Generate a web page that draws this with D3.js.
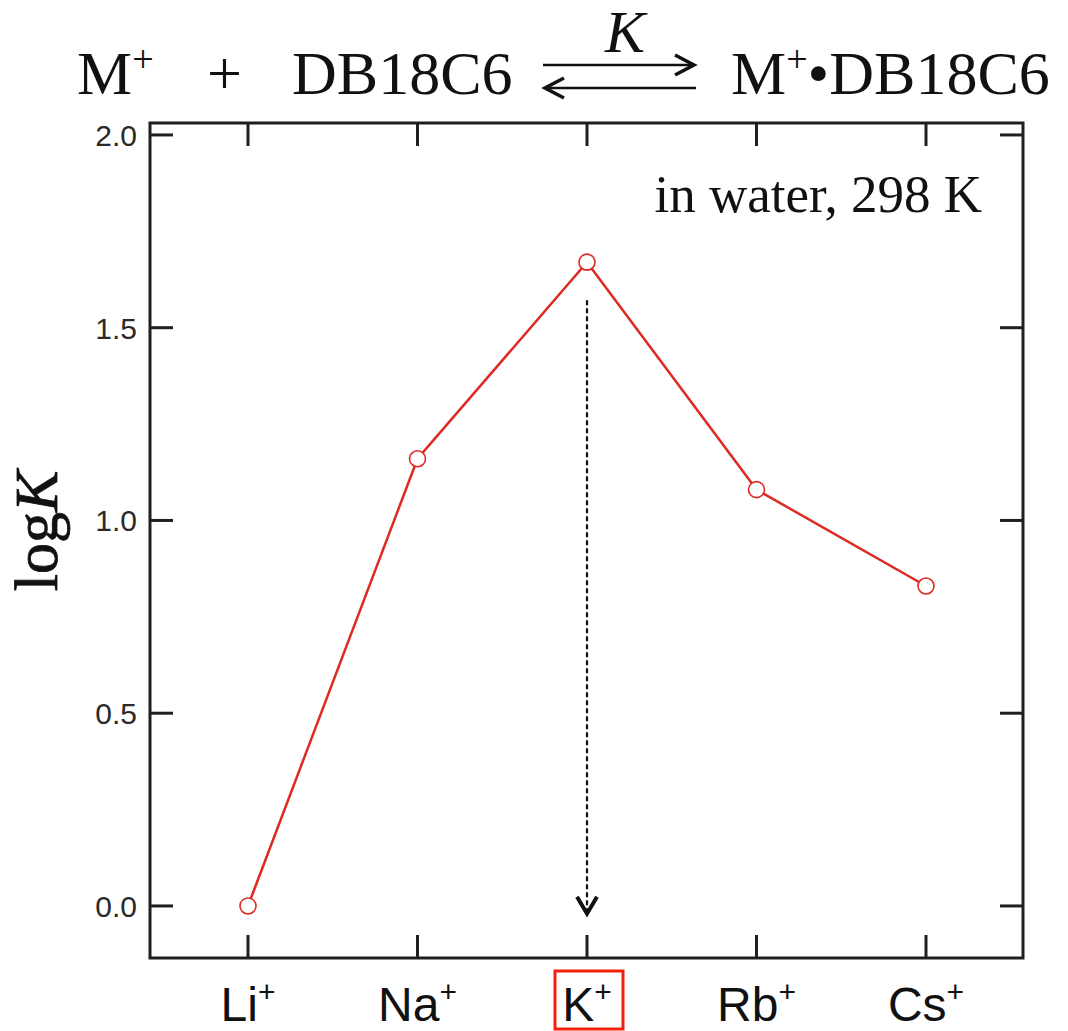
<!DOCTYPE html>
<html>
<head>
<meta charset="utf-8">
<script src="https://cdn.jsdelivr.net/npm/d3@7"></script>
<style>
  body { margin: 0; background: #fff; }
  svg text { fill: #111; }
</style>
</head>
<body>
<div id="chart"></div>
<script>
// data
var cations = ["Li", "Na", "K", "Rb", "Cs"];
var logK = [0.0, 1.16, 1.67, 1.08, 0.83];
var yTicks = [0.0, 0.5, 1.0, 1.5, 2.0];

var W = 1068, H = 1031;
var margin = {top: 123, right: 45, bottom: 73, left: 150};
var width = W - margin.left - margin.right;
var height = H - margin.top - margin.bottom;

var svg = d3.select("#chart").append("svg")
    .attr("width", W).attr("height", H);

var g = svg.append("g")
    .attr("transform", "translate(" + margin.left + "," + margin.top + ")");

var x = d3.scalePoint()
    .domain(cations)
    .range([98, 776]);

var y = d3.scaleLinear()
    .domain([-0.135, 2.031])
    .range([height, 0]);

var ink = "#1d211d";
var sans = "Liberation Sans, Arial, sans-serif";
var serif = "Liberation Serif, Times New Roman, serif";

// frame
g.append("rect")
    .attr("width", width).attr("height", height)
    .attr("fill", "none").attr("stroke", ink).attr("stroke-width", 3);

// inward ticks on all four sides
var tick = 23;
g.selectAll(".ytl").data(yTicks).enter().append("line")
    .attr("x1", 0).attr("x2", tick)
    .attr("y1", function(d) { return y(d); }).attr("y2", function(d) { return y(d); })
    .attr("stroke", ink).attr("stroke-width", 3);
g.selectAll(".ytr").data(yTicks).enter().append("line")
    .attr("x1", width - tick).attr("x2", width)
    .attr("y1", function(d) { return y(d); }).attr("y2", function(d) { return y(d); })
    .attr("stroke", ink).attr("stroke-width", 3);
g.selectAll(".xtb").data(cations).enter().append("line")
    .attr("x1", function(d) { return x(d); }).attr("x2", function(d) { return x(d); })
    .attr("y1", height - tick).attr("y2", height)
    .attr("stroke", ink).attr("stroke-width", 3);
g.selectAll(".xtt").data(cations).enter().append("line")
    .attr("x1", function(d) { return x(d); }).attr("x2", function(d) { return x(d); })
    .attr("y1", 0).attr("y2", tick)
    .attr("stroke", ink).attr("stroke-width", 3);

// y tick labels
g.selectAll(".ylab").data(yTicks).enter().append("text")
    .attr("x", -13).attr("y", function(d) { return y(d); })
    .attr("dy", "0.36em")
    .attr("text-anchor", "end")
    .attr("font-family", sans)
    .attr("font-size", 30)
    .style("fill", "#2a2a2a")
    .text(function(d) { return d3.format(".1f")(d); });

// x tick labels with superscript +
var xl = g.selectAll(".xlab").data(cations).enter().append("text")
    .attr("x", function(d) { return x(d); })
    .attr("y", height + 63)
    .attr("text-anchor", "middle")
    .attr("font-family", sans)
    .attr("font-size", 48);
xl.append("tspan").text(function(d) { return d; });
xl.append("tspan").attr("font-size", 30).attr("dy", -19).text("+");

// red box around K+
g.append("rect")
    .attr("x", x("K") - 32).attr("y", height + 13)
    .attr("width", 68).attr("height", 58)
    .attr("fill", "none").attr("stroke", "#f0200c").attr("stroke-width", 3);

// dashed arrow from the peak down to the axis
var peak = logK[cations.indexOf("K")];
g.append("line")
    .attr("x1", x("K")).attr("x2", x("K"))
    .attr("y1", y(peak) + 38).attr("y2", y(-0.02))
    .attr("stroke", "#111").attr("stroke-width", 2.2)
    .attr("stroke-dasharray", "5,3");
g.append("path")
    .attr("d", "M" + (x("K") - 10) + "," + (y(-0.02) - 17) +
               "L" + x("K") + "," + y(-0.02) +
               "L" + (x("K") + 10) + "," + (y(-0.02) - 17))
    .attr("fill", "none").attr("stroke", "#111").attr("stroke-width", 4);

// data line and points
var line = d3.line()
    .x(function(d, i) { return x(cations[i]); })
    .y(function(d) { return y(d); });

g.append("path")
    .datum(logK)
    .attr("d", line)
    .attr("fill", "none").attr("stroke", "#dd2a22").attr("stroke-width", 2.5);

g.selectAll(".pt").data(logK).enter().append("circle")
    .attr("cx", function(d, i) { return x(cations[i]); })
    .attr("cy", function(d) { return y(d); })
    .attr("r", 8)
    .attr("fill", "#fff").attr("stroke", "#dd2a22").attr("stroke-width", 1.6);

// annotation
g.append("text")
    .attr("x", 832).attr("y", 89)
    .attr("text-anchor", "end")
    .attr("font-family", serif)
    .attr("font-size", 53)
    .text("in water, 298 K");

// y axis label
var yl = svg.append("text")
    .attr("transform", "translate(57,531) rotate(-90)")
    .attr("text-anchor", "middle")
    .attr("font-family", serif)
    .attr("font-size", 62)
    .style("stroke", "#111").style("stroke-width", 0.8);
yl.append("tspan").text("log");
yl.append("tspan").attr("font-style", "italic").text("K");

// reaction header
function chem(xp, parts) {
    var t = svg.append("text")
        .attr("x", xp).attr("y", 94)
        .attr("font-family", serif)
        .attr("font-size", 62);
    parts.forEach(function(p) {
        var s = t.append("tspan").text(p.t);
        if (p.sup) s.attr("font-size", 38).attr("dy", -22);
        if (p.down) s.attr("dy", 22);
    });
    return t;
}
chem(77, [{t: "M"}, {t: "+", sup: true}]);
chem(207, [{t: "+"}]);
chem(292, [{t: "DB18C6"}]);
chem(731, [{t: "M"}, {t: "+", sup: true}, {t: "•DB18C6", down: true}]);

svg.append("text")
    .attr("x", 625).attr("y", 52)
    .attr("text-anchor", "middle")
    .attr("font-family", serif).attr("font-style", "italic")
    .attr("font-size", 60)
    .text("K");

// equilibrium arrows
svg.append("line").attr("x1", 543).attr("x2", 693).attr("y1", 65).attr("y2", 65)
    .attr("stroke", "#111").attr("stroke-width", 2.5);
svg.append("path").attr("d", "M675,55L694,65L675,75")
    .attr("fill", "none").attr("stroke", "#111").attr("stroke-width", 3.5);
svg.append("line").attr("x1", 546).attr("x2", 696).attr("y1", 88).attr("y2", 88)
    .attr("stroke", "#111").attr("stroke-width", 2.5);
svg.append("path").attr("d", "M564,78L545,88L564,98")
    .attr("fill", "none").attr("stroke", "#111").attr("stroke-width", 3.5);
</script>
</body>
</html>
